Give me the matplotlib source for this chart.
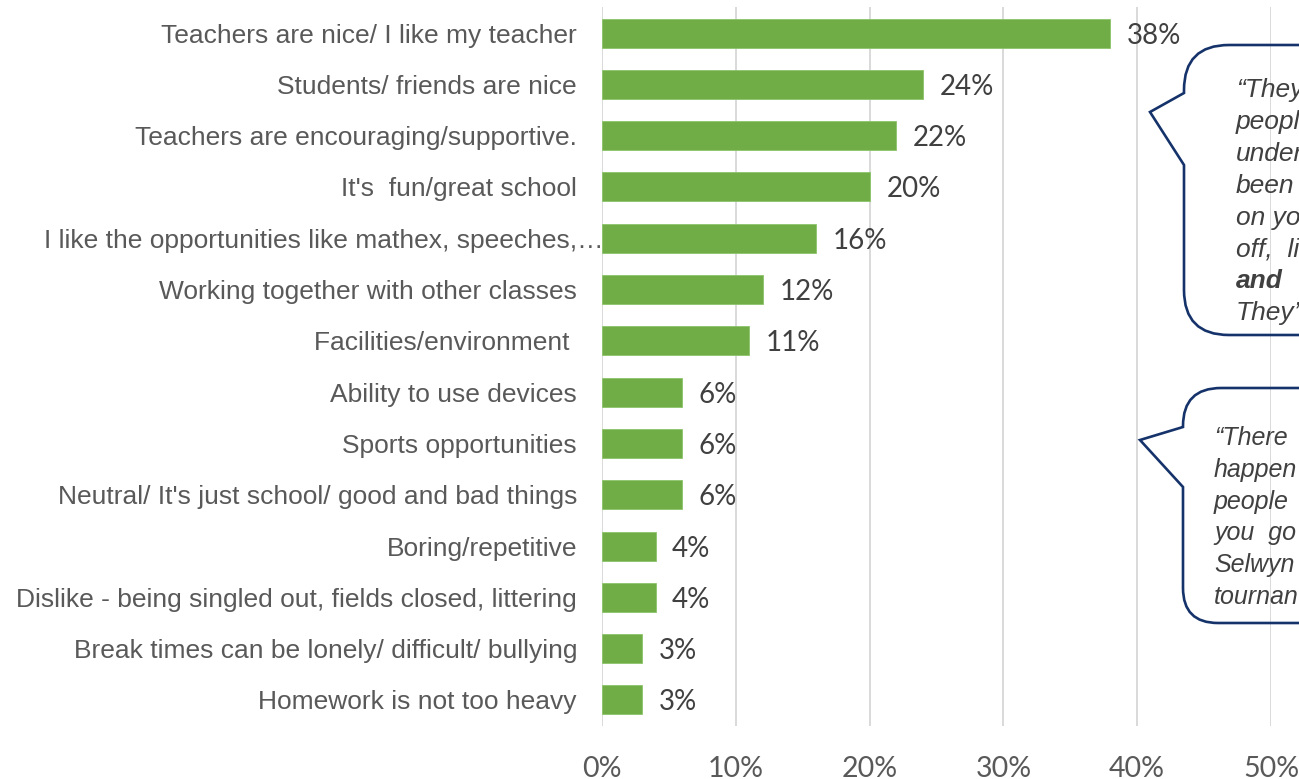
import matplotlib
matplotlib.use("Agg")
import matplotlib.pyplot as plt
from matplotlib.path import Path
from matplotlib.patches import PathPatch
from matplotlib.transforms import Affine2D, ScaledTranslation

# Survey responses: what students like / say about their school
categories = [
    "Teachers are nice/ I like my teacher",
    "Students/ friends are nice",
    "Teachers are encouraging/supportive.",
    "It's  fun/great school",
    "I like the opportunities like mathex, speeches,\u2026",
    "Working together with other classes",
    "Facilities/environment ",
    "Ability to use devices",
    "Sports opportunities",
    "Neutral/ It's just school/ good and bad things",
    "Boring/repetitive",
    "Dislike - being singled out, fields closed, littering",
    "Break times can be lonely/ difficult/ bullying",
    "Homework is not too heavy",
]
percent = [38, 24, 22, 20, 16, 12, 11, 6, 6, 6, 4, 4, 3, 3]
x_ticks = [0, 10, 20, 30, 40, 50]
x_tick_labels = ["0%", "10%", "20%", "30%", "40%", "50%"]

# Quotes shown in the speech bubbles (the right part runs off the page)
quote_1 = ["\u201cThey", "peopl", "under", "been", "on yo", "off,  li", "and", "They\u2019"]
quote_2 = ["\u201cThere", "happen", "people", "you  go", "Selwyn", "tournan"]

W, H = 1299, 779
fig = plt.figure(figsize=(W / 100, H / 100), dpi=100)
ax = fig.add_axes([602 / W, 1 - 725.6 / H, (1271 - 602) / W, (725.6 - 7.4) / H])

bar_color = "#70AD47"
grid_color = "#D9D9D9"
label_color = "#595959"
value_color = "#404040"

ypos = list(range(len(categories)))
ax.barh(ypos, percent, height=0.565, color=bar_color,
        edgecolor="#8CC46A", linewidth=0.6, zorder=3)
for y, v in zip(ypos, percent):
    ax.annotate(f"{v}%", xy=(v, y), xytext=(12, 0), textcoords="offset points",
                ha="left", va="center_baseline", fontsize=20,
                color=value_color, family="Lato")

ax.set_xlim(0, 50)
ax.set_ylim(len(categories) - 0.5, -0.5)
ax.set_xticks(x_ticks)
ax.set_xticklabels(x_tick_labels, fontsize=20.5, color=label_color, family="Lato")
ax.set_yticks(ypos)
ax.set_yticklabels(categories, fontsize=19, color=label_color, family="Liberation Sans")
ax.tick_params(axis="both", length=0)
ax.tick_params(axis="y", pad=18)
ax.tick_params(axis="x", pad=22)
ax.xaxis.grid(True, color=grid_color, linewidth=1.4, zorder=0)
ax.set_axisbelow(True)
for s in ax.spines.values():
    s.set_visible(False)

# the truncated label sits further right, running up to the bar
lbls = ax.get_yticklabels()
lbls[4].set_transform(lbls[4].get_transform() + ScaledTranslation(27 / 100, 0, fig.dpi_scale_trans))

# pixel coordinates measured from the top-left corner
px = Affine2D().scale(1, -1).translate(0, H)


def bubble(L, T, B, r_top, r_bot, tip_top, tip, tip_bot, R=1450):
    verts = [
        (L + r_top, T), (R, T), (R, B), (L + r_bot, B),
        (L, B), (L, B - r_bot),
        (L, tip_bot), tip, (L, tip_top),
        (L, T + r_top), (L, T), (L + r_top, T),
    ]
    codes = [
        Path.MOVETO, Path.LINETO, Path.LINETO, Path.LINETO,
        Path.CURVE3, Path.CURVE3,
        Path.LINETO, Path.LINETO, Path.LINETO,
        Path.LINETO, Path.CURVE3, Path.CURVE3,
    ]
    patch = PathPatch(Path(verts, codes), facecolor="none", edgecolor="#15336A",
                      linewidth=1.9, transform=px, zorder=10)
    fig.add_artist(patch)


bubble(1184, 45, 335, 45, 45, 93, (1150, 112), 165)
bubble(1183, 388, 623, 38, 35, 427, (1140, 440), 487)

for i, line in enumerate(quote_1):
    fig.text(1236, 97 + 31.9 * i, line, transform=px, fontsize=19,
             family="Liberation Sans", style="italic",
             weight="bold" if line == "and" else "normal",
             color="#404040", va="baseline", ha="left")

for i, line in enumerate(quote_2):
    fig.text(1214, 445 + 31.8 * i, line, transform=px, fontsize=18,
             family="Liberation Sans", style="italic",
             color="#404040", va="baseline", ha="left")

fig.savefig("out.png", dpi=100)
